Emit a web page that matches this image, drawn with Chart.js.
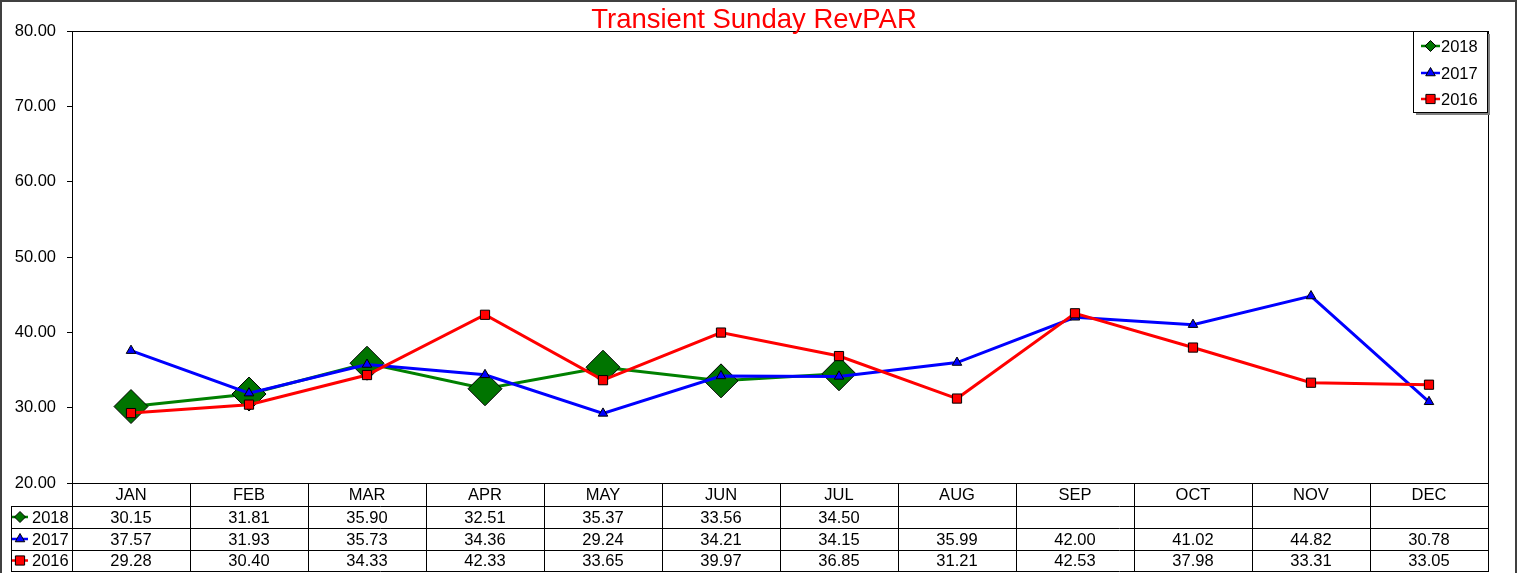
<!DOCTYPE html>
<html>
<head>
<meta charset="utf-8">
<title>Transient Sunday RevPAR</title>
<script src="https://cdn.jsdelivr.net/npm/chart.js@4/dist/chart.umd.min.js"></script>
<style>
  html, body { margin: 0; padding: 0; background: #ffffff; }
  canvas { display: block; }
</style>
</head>
<body>
<canvas id="revpar" width="1520" height="573"></canvas>
<script>
// ---- data ----
const chartTitle = 'Transient Sunday RevPAR';
const months = ['JAN', 'FEB', 'MAR', 'APR', 'MAY', 'JUN', 'JUL', 'AUG', 'SEP', 'OCT', 'NOV', 'DEC'];
const seriesNames = ['2018', '2017', '2016'];
const revpar2018 = [30.15, 31.81, 35.90, 32.51, 35.37, 33.56, 34.50, null, null, null, null, null];
const revpar2017 = [37.57, 31.93, 35.73, 34.36, 29.24, 34.21, 34.15, 35.99, 42.00, 41.02, 44.82, 30.78];
const revpar2016 = [29.28, 30.40, 34.33, 42.33, 33.65, 39.97, 36.85, 31.21, 42.53, 37.98, 33.31, 33.05];
const yMin = 20, yMax = 80, yStep = 10;

// ---- styling ----
const FONT = 'Arial, "Liberation Sans", sans-serif';
const GREEN = '#008000', GREEN_FILL = '#007400', BLUE = '#0000ff', RED = '#ff0000';

const seriesStyle = [
  { color: GREEN, fill: GREEN_FILL, pointStyle: 'rectRot', radius: 17, keyRadius: 5.5 },
  { color: BLUE,  fill: BLUE,       pointStyle: 'triangle', radius: 5.5, keyRadius: 5.5 },
  { color: RED,   fill: RED,        pointStyle: 'rect',     radius: 6.5, keyRadius: 6.5 }
];
const seriesValues = [revpar2018, revpar2017, revpar2016];

function fmt(v) { return v == null ? '' : v.toFixed(2); }

function drawKey(ctx, s, xLine0, xLine1, y) {
  ctx.save();
  ctx.strokeStyle = s.color;
  ctx.lineWidth = 2.5;
  ctx.beginPath();
  ctx.moveTo(xLine0, y);
  ctx.lineTo(xLine1, y);
  ctx.stroke();
  ctx.fillStyle = s.fill;
  ctx.strokeStyle = '#000000';
  ctx.lineWidth = 1;
  Chart.helpers.drawPoint(ctx, { pointStyle: s.pointStyle, radius: s.keyRadius, rotation: 0, borderWidth: 1 },
    (xLine0 + xLine1) / 2, y);
  ctx.restore();
}

// Frame, title, legend box and the data table under the plot
const decorations = {
  id: 'decorations',
  afterDraw(chart) {
    const ctx = chart.ctx;
    const a = chart.chartArea;
    const x = chart.scales.x;
    const crisp = v => Math.round(v) + 0.5;
    const textFont = '16.5px ' + FONT;

    ctx.save();

    // outer border
    ctx.strokeStyle = '#404040';
    ctx.lineWidth = 2;
    ctx.beginPath();
    ctx.moveTo(1, 575);
    ctx.lineTo(1, 1);
    ctx.lineTo(1516, 1);
    ctx.lineTo(1516, 575);
    ctx.stroke();

    // plot frame
    ctx.strokeStyle = '#000000';
    ctx.lineWidth = 1;
    ctx.strokeRect(crisp(a.left), crisp(a.top), Math.round(a.right) - Math.round(a.left), Math.round(a.bottom) - Math.round(a.top));

    // title
    ctx.fillStyle = RED;
    ctx.font = '27.5px ' + FONT;
    ctx.textAlign = 'center';
    ctx.textBaseline = 'alphabetic';
    ctx.fillText(chartTitle, 754, 28);

    // legend
    const lg = { left: 1413, top: 31, right: 1487, bottom: 112 };
    ctx.fillStyle = '#808080';
    ctx.fillRect(lg.left + 3, lg.top + 3, lg.right - lg.left, lg.bottom - lg.top);
    ctx.fillStyle = '#ffffff';
    ctx.fillRect(lg.left, lg.top, lg.right - lg.left, lg.bottom - lg.top);
    ctx.strokeStyle = '#000000';
    ctx.strokeRect(lg.left + 0.5, lg.top + 0.5, lg.right - lg.left, lg.bottom - lg.top);
    const legendRows = [46, 73, 99];
    seriesNames.forEach((name, i) => {
      drawKey(ctx, seriesStyle[i], 1421, 1440, legendRows[i]);
      ctx.fillStyle = '#000000';
      ctx.font = textFont;
      ctx.textAlign = 'left';
      ctx.textBaseline = 'middle';
      ctx.fillText(name, 1441, legendRows[i] + 1);
    });

    // data table
    const rowEdges = [a.bottom, a.bottom + 23, a.bottom + 45, a.bottom + 67, a.bottom + 88];
    const keyLeft = 11;
    const colW = (a.right - a.left) / months.length;
    ctx.strokeStyle = '#000000';
    ctx.lineWidth = 1;
    ctx.beginPath();
    // horizontal rules
    ctx.moveTo(a.left, crisp(rowEdges[0]));
    ctx.lineTo(a.right, crisp(rowEdges[0]));
    for (let r = 1; r < rowEdges.length; r++) {
      ctx.moveTo(keyLeft, crisp(rowEdges[r]));
      ctx.lineTo(a.right + 1, crisp(rowEdges[r]));
    }
    // vertical rules
    for (let c = 0; c <= months.length; c++) {
      const xc = crisp(a.left + c * colW);
      ctx.moveTo(xc, rowEdges[0]);
      ctx.lineTo(xc, rowEdges[4] + 1);
    }
    ctx.moveTo(crisp(keyLeft), rowEdges[1]);
    ctx.lineTo(crisp(keyLeft), rowEdges[4] + 1);
    ctx.stroke();

    ctx.fillStyle = '#000000';
    ctx.font = textFont;
    ctx.textBaseline = 'middle';
    ctx.textAlign = 'center';
    months.forEach((m, i) => {
      const cx = x.getPixelForValue(i);
      ctx.fillText(m, cx, (rowEdges[0] + rowEdges[1]) / 2 + 1);
      seriesValues.forEach((vals, s) => {
        ctx.fillText(fmt(vals[i]), cx, (rowEdges[s + 1] + rowEdges[s + 2]) / 2 + 1);
      });
    });

    seriesNames.forEach((name, s) => {
      const cy = (rowEdges[s + 1] + rowEdges[s + 2]) / 2;
      drawKey(ctx, seriesStyle[s], 12, 28, cy);
      ctx.fillStyle = '#000000';
      ctx.font = textFont;
      ctx.textAlign = 'left';
      ctx.textBaseline = 'middle';
      ctx.fillText(name, 32, cy + 1);
    });

    ctx.restore();
  }
};

const datasets = seriesNames.map((name, i) => ({
  label: name,
  data: seriesValues[i],
  borderColor: seriesStyle[i].color,
  backgroundColor: seriesStyle[i].fill,
  borderWidth: 3,
  pointStyle: seriesStyle[i].pointStyle,
  pointRadius: seriesStyle[i].radius,
  pointHoverRadius: seriesStyle[i].radius,
  pointBackgroundColor: seriesStyle[i].fill,
  pointBorderColor: '#000000',
  pointBorderWidth: 1,
  tension: 0,
  spanGaps: false,
  order: 3 - i
}));

new Chart(document.getElementById('revpar'), {
  type: 'line',
  data: { labels: months, datasets },
  options: {
    responsive: false,
    animation: false,
    devicePixelRatio: 1,
    layout: { padding: { top: 31, right: 32, bottom: 90, left: 0 } },
    plugins: {
      legend: { display: false },
      title: { display: false },
      tooltip: { enabled: false }
    },
    scales: {
      x: {
        type: 'category',
        offset: true,
        display: false
      },
      y: {
        min: yMin,
        max: yMax,
        afterFit(scale) { scale.width = 72; },
        ticks: {
          stepSize: yStep,
          padding: 11,
          color: '#000000',
          font: { family: FONT, size: 16.5 },
          callback: v => Number(v).toFixed(2)
        },
        grid: {
          drawOnChartArea: false,
          drawTicks: true,
          tickLength: 5,
          color: '#000000'
        },
        border: { display: true, color: '#000000', width: 1 }
      }
    }
  },
  plugins: [decorations]
});
</script>
</body>
</html>
